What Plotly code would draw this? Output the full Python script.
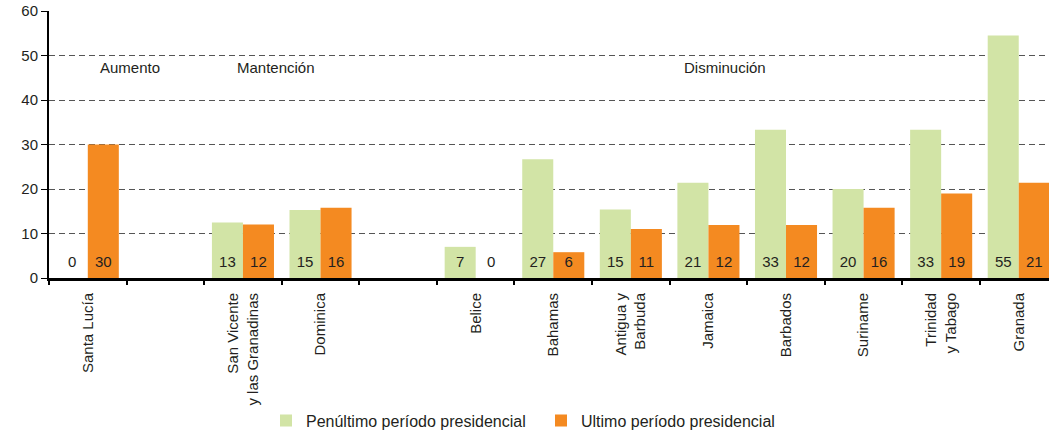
import plotly.graph_objects as go

categories = ["Santa Lucía", "", "San Vicente<br>y las Granadinas", "Dominica", "",
              "Belice", "Bahamas", "Antigua y<br>Barbuda", "Jamaica", "Barbados",
              "Suriname", "Trinidad<br>y Tabago", "Granada"]
penultimo = [0, None, 12.5, 15.3, None, 7, 26.7, 15.4, 21.4, 33.3, 20, 33.3, 54.5]
ultimo = [30, None, 12, 15.8, None, 0, 5.8, 11, 11.9, 11.9, 15.8, 19, 21.4]
penultimo_lbl = ["0", "", "13", "15", "", "7", "27", "15", "21", "33", "20", "33", "55"]
ultimo_lbl = ["30", "", "12", "16", "", "0", "6", "11", "12", "12", "16", "19", "21"]
groups = ["Aumento", "Mantención", "Disminución"]
group_x = [0.54, 2.42, 8.22]

GREEN = "#d2e4a6"
ORANGE = "#f48a21"
TXT = "#231f20"
FONT = "Liberation Sans, Arial, sans-serif"

xs = list(range(len(categories)))

fig = go.Figure()
fig.add_trace(go.Bar(x=xs, y=penultimo, width=0.4, offset=-0.4, marker_color=GREEN,
                     marker_line_width=0, name="Penúltimo período presidencial"))
fig.add_trace(go.Bar(x=xs, y=ultimo, width=0.4, offset=0, marker_color=ORANGE,
                     marker_line_width=0, name="Ultimo período presidencial"))

lx, ly, lt = [], [], []
for i in xs:
    if penultimo_lbl[i]:
        lx.append(i - 0.2); ly.append(3.3); lt.append(penultimo_lbl[i])
    if ultimo_lbl[i]:
        lx.append(i + 0.2); ly.append(3.3); lt.append(ultimo_lbl[i])
fig.add_trace(go.Scatter(x=lx, y=ly, text=lt, mode="text", textposition="middle center",
                         textfont=dict(size=15, color=TXT, family=FONT), showlegend=False,
                         hoverinfo="skip"))

for g, gx in zip(groups, group_x):
    fig.add_annotation(x=gx, y=47.3, text=g, showarrow=False, xref="x", yref="y",
                       font=dict(size=15, color=TXT, family=FONT))

XR = [-0.5, 12.39]
fig.update_layout(
    width=1049, height=435,
    margin=dict(l=49, r=0, t=11, b=157),
    plot_bgcolor="white", paper_bgcolor="white",
    font=dict(family=FONT, color=TXT, size=15),
    barmode="overlay",
    showlegend=True,
    legend=dict(orientation="h", x=0.217, xanchor="left", xref="paper",
                y=0.0724, yanchor="top", yref="container",
                font=dict(size=16, color=TXT), entrywidth=230, entrywidthmode="pixels",
                traceorder="normal"),
    xaxis=dict(range=XR, tickmode="array", tickvals=xs, ticktext=categories,
               tickangle=-90, ticks="outside", ticklen=6, tickcolor="rgba(0,0,0,0)",
               showgrid=False, showline=True, linecolor="black", linewidth=3,
               tickfont=dict(size=15, color=TXT), zeroline=False, automargin=False),
    xaxis2=dict(range=XR, overlaying="x", anchor="y", side="bottom", tickmode="array",
                tickvals=[i - 0.5 for i in range(len(categories) + 1)],
                ticks="outside", ticklen=6, tickcolor="black", tickwidth=1.5,
                showticklabels=False, showgrid=False, showline=False, zeroline=False,
                automargin=False),
    yaxis=dict(range=[0, 60], tickvals=[0, 10, 20, 30, 40, 50, 60], ticks="outside",
               ticklen=6, tickcolor="black", showline=True, linecolor="black", linewidth=2,
               showgrid=True, gridcolor="#555555", griddash="6px,4px", gridwidth=1,
               zeroline=False, tickfont=dict(size=15, color=TXT), automargin=False),
)
fig.add_trace(go.Scatter(x=[None], y=[None], xaxis="x2", showlegend=False))

fig.write_html("out.html", config={"displayModeBar": False},
               post_script="document.body.style.margin='0';")
